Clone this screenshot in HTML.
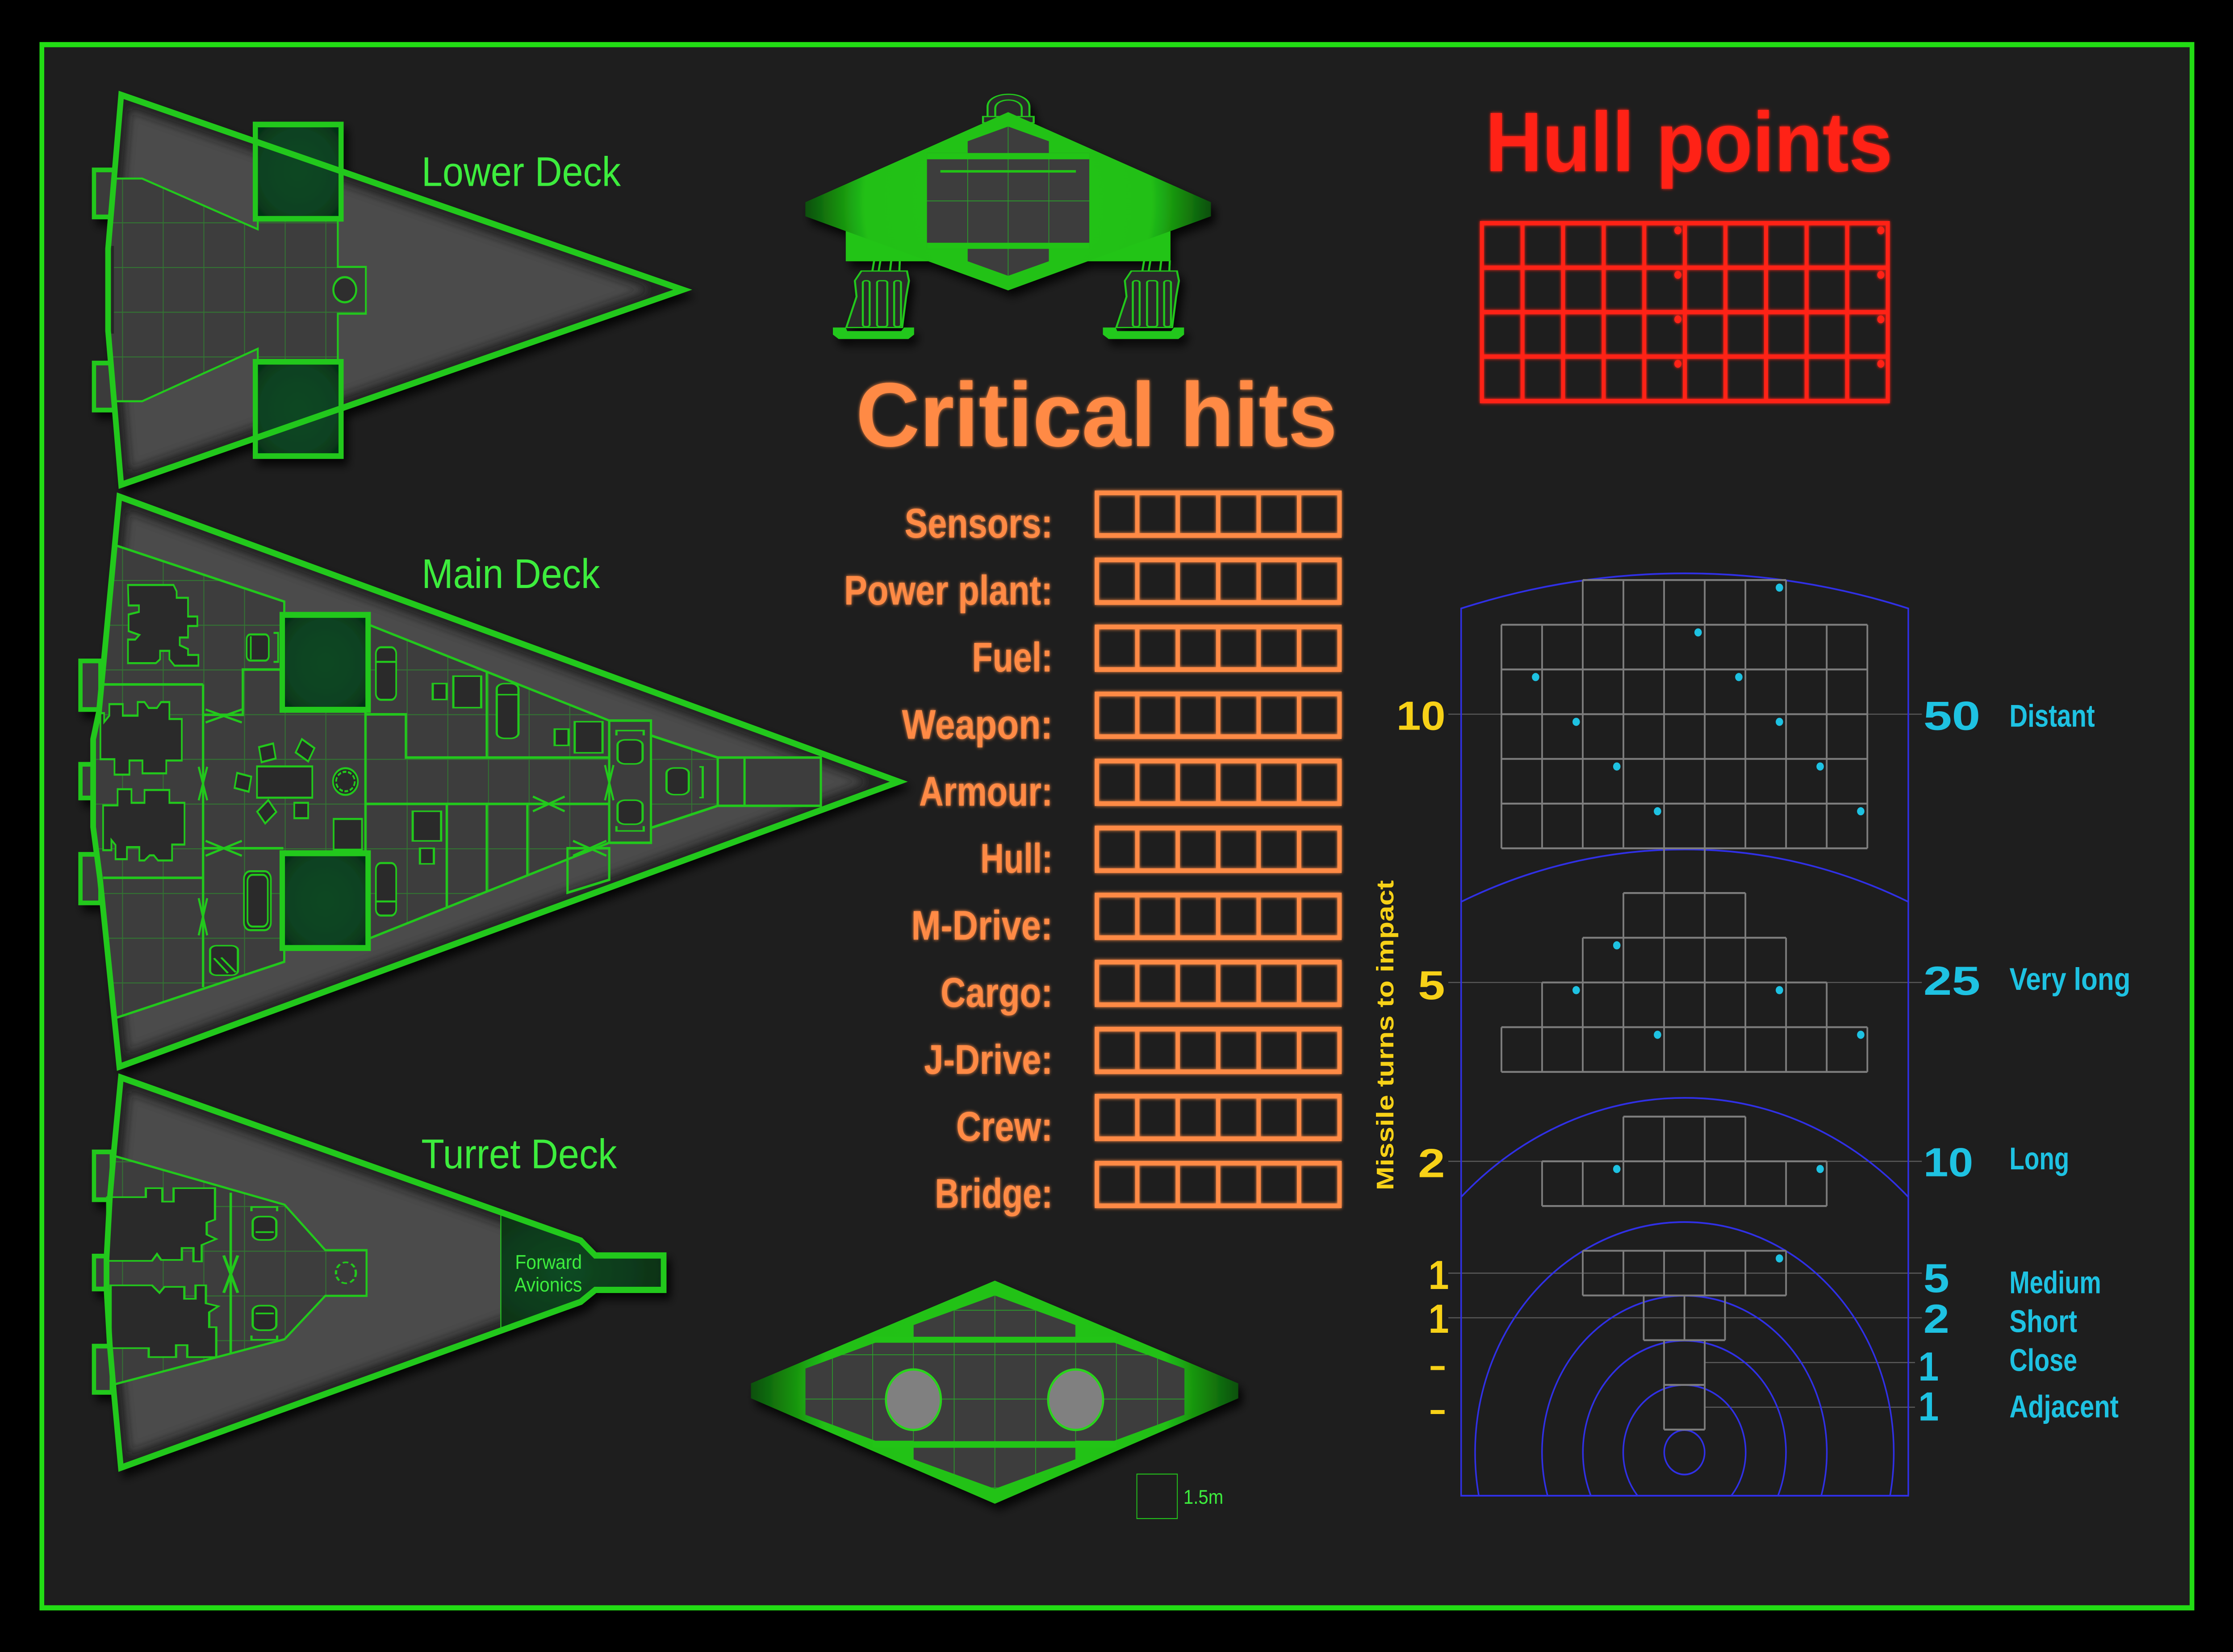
<!DOCTYPE html>
<html><head><meta charset="utf-8"><title>Ship deck plan</title>
<style>
html,body{margin:0;padding:0;background:#000;overflow:hidden;width:100%;height:100%;}
svg{display:block;width:100vw;height:100vh;}
text{font-family:"Liberation Sans",Arial,sans-serif;}
</style></head><body>
<svg xmlns="http://www.w3.org/2000/svg" viewBox="0 0 1568 1054.8" preserveAspectRatio="none">
<defs>
 <filter id="ds" x="-10%" y="-10%" width="130%" height="130%">
  <feDropShadow dx="3" dy="4" stdDeviation="3" flood-color="#000" flood-opacity="0.85"/>
 </filter>
 <filter id="glow" x="-5%" y="-20%" width="110%" height="140%">
  <feGaussianBlur stdDeviation="1.1" result="b"/>
  <feMerge><feMergeNode in="b"/><feMergeNode in="SourceGraphic"/></feMerge>
 </filter>
 <filter id="blur3" x="-5%" y="-5%" width="110%" height="110%"><feGaussianBlur stdDeviation="3"/></filter>
 <radialGradient id="groom" cx="50%" cy="50%" r="70%">
  <stop offset="0" stop-color="#0b4723"/><stop offset="0.65" stop-color="#0a4220"/><stop offset="1" stop-color="#042a14"/>
 </radialGradient>
 <radialGradient id="gav" cx="40%" cy="50%" r="70%">
  <stop offset="0" stop-color="#0b4a22"/><stop offset="1" stop-color="#062e15"/>
 </radialGradient>
 <radialGradient id="gdT" gradientUnits="userSpaceOnUse" cx="707.9" cy="128.5" r="148">
  <stop offset="0" stop-color="#22c414"/><stop offset="0.68" stop-color="#21c014"/><stop offset="1" stop-color="#08400a"/>
 </radialGradient>
 <radialGradient id="gdB" gradientUnits="userSpaceOnUse" cx="698.6" cy="889" r="178">
  <stop offset="0" stop-color="#22c414"/><stop offset="0.68" stop-color="#21c014"/><stop offset="1" stop-color="#08400a"/>
 </radialGradient>
 <pattern id="grid" patternUnits="userSpaceOnUse" x="114.3" y="370.35" width="28.55" height="28.55">
  <path d="M0,0.3 H28.55 M0.3,0 V28.55" stroke="#2aa02a" stroke-width="0.6" fill="none" opacity="0.55"/>
 </pattern>
 <path id="hL" d="M85.1,60.6 L479.4,185 L85.1,309.5 L75.9,211.2 L75.9,158.9 Z"/>
 <path id="hM" d="M83.8,317.1 L631.1,499.1 L83.8,681.1 L70.2,560.8 L65.4,528 L65.4,472 L69.5,454.5 Z"/>
 <path id="hT" d="M84.9,688 L407.8,792.1 L418,801.6 L466,801.6 L466,823.6 L418,823.6 L407.8,831.2 L84.9,937.1 L80,889.4 L77.1,858.9 L74.8,822.6 L74.8,803.5 L77.1,765.3 L80,734.8 Z"/>
 <path id="iL" d="M81.1,114 L99.8,114 L181,146.4 L181,140 L237.2,140 L237.2,170.4 L256.9,170.4 L256.9,200.3 L237.2,200.3 L237.2,231 L181,231 L181,222.7 L99.8,256.2 L81.1,256.2 L75.9,211.2 L75.9,158.9 Z"/>
 <path id="iM" d="M80.6,348 L199.6,384.1 L199.6,392.6 L258.5,392.6 L258.5,398.7 L427.8,460.1 L457.1,460.1 L457.1,469.6 L504,483.7 L576.4,483.7 L576.4,514.5 L504,514.5 L457.1,528.6 L457.1,538.1 L427.8,538.1 L258.5,599.5 L258.5,605.6 L199.6,605.6 L199.6,614.1 L80.6,650.2 L70.2,560.8 L65.4,528 L65.4,472 L69.5,454.5 Z"/>
 <path id="iT" d="M80,738 L199.8,769.2 L228.4,798.2 L257.4,798.2 L257.4,827.4 L228.4,827.4 L199.8,855.1 L80,884 L77.1,858.9 L74.8,822.6 L74.8,803.5 L77.1,765.3 Z"/>
 <path id="iB" d="M641.4,846.1 L698.6,827.2 L755.3,846.1 L755.3,857.3 L782.5,857.3 L831.7,873.8 L831.7,903.3 L782.5,919.9 L755.3,919.9 L755.3,931.7 L698.6,950.6 L641.4,931.7 L641.4,919.9 L614.7,919.9 L565.6,903.3 L565.6,873.8 L614.7,857.3 L641.4,857.3 Z"/>
 <clipPath id="cL"><use href="#hL"/></clipPath>
 <clipPath id="cM"><use href="#hM"/></clipPath>
 <clipPath id="cT"><use href="#hT"/></clipPath>
 <clipPath id="cB"><use href="#iB"/></clipPath>
 <clipPath id="cR"><rect x="1020" y="300" width="330" height="655"/></clipPath>
</defs>

<rect x="0" y="0" width="1568" height="1054.8" fill="#000"/>
<rect x="29.4" y="28.5" width="1509.8" height="998.1" fill="#1e1e1e" stroke="#22dd14" stroke-width="3.3"/>

<!-- ================= LOWER DECK ================= -->
<g filter="url(#ds)">
 <rect x="66" y="108.5" width="14" height="30" fill="#3a3a3a" stroke="#24c81c" stroke-width="3"/>
 <rect x="66" y="231.8" width="14" height="30" fill="#3a3a3a" stroke="#24c81c" stroke-width="3"/>
 <use href="#hL" fill="#4b4b4b"/>
 <g clip-path="url(#cL)"><use href="#hL" fill="none" stroke="#141414" stroke-width="14" filter="url(#blur3)" opacity="0.75"/></g>
 <use href="#iL" fill="#3e3e3e"/>
 <use href="#iL" fill="url(#grid)"/>
 <use href="#iL" fill="none" stroke="#24c81c" stroke-width="1.3"/>
 <rect x="74" y="157" width="6" height="56" fill="#262626"/>
 <circle cx="242.1" cy="185" r="8" fill="#2e2e2e" stroke="#24c81c" stroke-width="1.4"/>
 <rect x="179.3" y="79.5" width="60.2" height="60.2" fill="url(#groom)" stroke="#24c81c" stroke-width="3.6"/>
 <rect x="179.3" y="231" width="60.2" height="60.2" fill="url(#groom)" stroke="#24c81c" stroke-width="3.6"/>
 <use href="#hL" fill="none" stroke="#24c81c" stroke-width="4"/>
</g>
<text x="296" y="118.8" font-size="26.5" fill="#3ded3d">Lower Deck</text>

<!-- ================= MAIN DECK ================= -->
<g filter="url(#ds)">
 <rect x="56.5" y="422" width="14" height="31" fill="#3a3a3a" stroke="#24c81c" stroke-width="3"/>
 <rect x="56.5" y="488" width="12" height="21.5" fill="#3a3a3a" stroke="#24c81c" stroke-width="3"/>
 <rect x="56.5" y="545.5" width="14" height="31" fill="#3a3a3a" stroke="#24c81c" stroke-width="3"/>
 <use href="#hM" fill="#4b4b4b"/>
 <g clip-path="url(#cM)"><use href="#hM" fill="none" stroke="#141414" stroke-width="14" filter="url(#blur3)" opacity="0.75"/></g>
 <use href="#iM" fill="#3e3e3e"/>
 <use href="#iM" fill="url(#grid)"/>
 <use href="#iM" fill="none" stroke="#24c81c" stroke-width="1.5"/>
 <path fill="none" stroke="#24c81c" stroke-width="1.6" d="M72.4,437 H142.6 M142.6,437 V630.3 M72.4,560.5 H142.6 M142.6,456.4 H170.5 V427.5 H199 M142.6,541.6 H199
  M256.6,453 V545 M256.6,456.1 H285 V483.7 H427.8 M256.6,513.3 H427.8 M341.8,429.4 V483.7 M313.7,513.3 V579.5 M341.8,513.3 V569.3 M370.3,513.3 V558.9
  M427.8,460.1 V538.1 M398.5,541.6 H427.8 V561.7 L398.5,570 Z M504,483.7 V514.5 M522.8,483.7 V514.5"/>
 <path fill="#3e3e3e" stroke="#24c81c" stroke-width="1.6" d="M504,483.7 H576.4 V514.5 H504 Z M427.8,460.1 H457.1 V469.6 L457.1,528.6 V538.1 H427.8 Z"/>
 <path fill="none" stroke="#24c81c" stroke-width="1.6" d="M522.8,483.7 V514.5 M457.1,469.6 L504,483.7 M457.1,528.6 L504,514.5"/>
 <path fill="none" stroke="#24c81c" stroke-width="1.4" d="M144.4,453 L169.8,461.3 M144.4,461.3 L169.8,453 M144.4,536.9 L169.8,546.4 M144.4,546.4 L169.8,536.9
  M139.5,489.6 L145.5,511 M145.5,489.6 L139.5,511 M139.5,573.5 L145.5,597.2 M145.5,573.5 L139.5,597.2
  M374.2,508.6 L396.5,518 M374.2,518 L396.5,508.6 M402.4,536.9 L425.8,546.4 M402.4,546.4 L425.8,536.9
  M424.8,488.5 L430.8,511 M430.8,488.5 L424.8,511"/>
 <g transform="translate(51.31,356.33) scale(0.14544,0.16362)" fill="#2a2a2a" stroke="#24c81c" stroke-width="8">
  <path d="M265,105 H485 L500,130 V155 H555 V228 H600 V265 H555 V310 H515 V340 L555,355 V378 H605 V420 H490 L465,395 V362 H420 V395 L400,410 H265 V318 H300 L320,300 L268,285 V220 L318,210 V185 H268 Z"/>
  <path d="M132,605 H150 V640 L175,615 V570 H240 V615 H312 V562 H345 L365,585 H405 L425,562 H465 V628 H525 V790 H450 V840 H335 V790 H272 V845 H200 V785 H132 Z"/>
  <path d="M145,965 H215 V902 H282 V955 H345 V905 H465 V955 H538 V1118 H478 V1180 H410 L390,1160 H370 L345,1180 H320 V1128 H260 V1175 H205 V1120 L185,1100 V1140 H145 Z"/>
  <rect x="838" y="298" width="107" height="102" rx="18"/>
  <path d="M858,305 V395" fill="none"/>
  <path d="M968,292 H990 V405 H968" fill="none"/>
  <rect x="888" y="813" width="267" height="122"/>
  <rect x="-35" y="-30" width="70" height="60" transform="translate(938,760) rotate(-12)"/>
  <rect x="-35" y="-30" width="70" height="60" transform="translate(1120,750) rotate(30)"/>
  <rect x="-35" y="-30" width="70" height="60" transform="translate(820,875) rotate(12)"/>
  <rect x="-35" y="-30" width="70" height="60" transform="translate(935,990) rotate(-40)"/>
  <rect x="1068" y="955" width="67" height="60"/>
  <ellipse cx="1315" cy="872" rx="60" ry="52"/>
  <ellipse cx="1315" cy="872" rx="45" ry="38" fill="none" stroke-dasharray="18 8"/>
  <rect x="1258" y="1018" width="137" height="120"/>
  <rect x="825" y="1222" width="130" height="230" rx="30"/>
  <rect x="842" y="1236" width="98" height="202" rx="25"/>
  <rect x="1462" y="348" width="98" height="205" rx="25"/>
  <path d="M1462,405 H1560" fill="none"/>
  <rect x="1462" y="1190" width="98" height="205" rx="25"/>
  <path d="M1462,1340 H1560" fill="none"/>
 </g>
 <g transform="translate(42.76,313.57) scale(0.39088,0.23634)" fill="#2a2a2a" stroke="#24c81c" stroke-width="4">
  <rect x="268" y="1228" width="50" height="80" rx="12"/>
  <path d="M275,1262 L300,1302 M288,1260 L314,1300" fill="none"/>
  <rect x="783" y="520" width="39" height="148" rx="14"/>
  <path d="M783,550 H822" fill="none"/>
  <rect x="668" y="520" width="25" height="43"/>
  <rect x="705" y="500" width="50" height="85"/>
  <rect x="887" y="643" width="25" height="44"/>
  <rect x="923" y="623" width="50" height="84"/>
  <rect x="632" y="865" width="51" height="80"/>
  <rect x="645" y="965" width="25" height="42"/>
  <rect x="1000" y="672" width="45" height="65" rx="14"/>
  <rect x="1000" y="835" width="45" height="65" rx="14"/>
  <path d="M998,660 V647 H1047 V660 M998,905 V918 H1047 V905" fill="none"/>
  <rect x="1088" y="748" width="40" height="72" rx="14"/>
  <path d="M1147,745 H1153 V828 H1147" fill="none"/>
 </g>
 <rect x="198.2" y="392.6" width="60.3" height="60.6" fill="url(#groom)" stroke="#24c81c" stroke-width="3.8"/>
 <rect x="198.2" y="544.8" width="60.3" height="60.5" fill="url(#groom)" stroke="#24c81c" stroke-width="3.8"/>
 <use href="#hM" fill="none" stroke="#24c81c" stroke-width="4"/>
</g>
<text x="296.1" y="375.5" font-size="26.5" fill="#3ded3d">Main Deck</text>

<!-- ================= TURRET DECK ================= -->
<g filter="url(#ds)">
 <rect x="66" y="735.5" width="12.5" height="30.5" fill="#3a3a3a" stroke="#24c81c" stroke-width="3"/>
 <rect x="66" y="802" width="10" height="21" fill="#3a3a3a" stroke="#24c81c" stroke-width="3"/>
 <rect x="66" y="859.5" width="12.5" height="29.5" fill="#3a3a3a" stroke="#24c81c" stroke-width="3"/>
 <use href="#hT" fill="#4b4b4b"/>
 <g clip-path="url(#cT)"><use href="#hT" fill="none" stroke="#141414" stroke-width="14" filter="url(#blur3)" opacity="0.75"/></g>
 <path d="M351.7,774 L407.8,792.1 L418,801.6 L466,801.6 L466,823.6 L418,823.6 L407.8,831.2 L351.7,849.6 Z" fill="url(#gav)"/>
 <path d="M351.7,774 V849.6" stroke="#24c81c" stroke-width="0.7"/>
 <use href="#iT" fill="#3e3e3e"/>
 <use href="#iT" fill="url(#grid)"/>
 <use href="#iT" fill="none" stroke="#24c81c" stroke-width="1.4"/>
 <g transform="translate(42.76,669.9) scale(0.29089,0.19088)" fill="#2a2a2a" stroke="#24c81c" stroke-width="5.5">
  <path d="M112,495 H205 V465 H245 V510 H272 V465 H372 V570 L352,580 V620 L375,635 L340,655 V710 H320 V665 H292 V705 H242 L232,685 L220,708 H112 Z"/>
  <path d="M120,790 H220 L238,815 L250,795 H298 V835 H325 V790 H350 V850 L380,860 L358,880 V930 H375 V1030 H305 V990 H278 V1030 H212 V1000 H120 Z"/>
  <path d="M410,480 V1020" fill="none" stroke-width="6"/>
  <path d="M393,690 L427,815 M427,690 L393,815" fill="none" stroke-width="7"/>
  <rect x="463" y="560" width="57" height="78" rx="18"/>
  <path d="M470,612 H514" fill="none"/>
  <rect x="463" y="858" width="57" height="82" rx="18"/>
  <path d="M470,884 H514" fill="none"/>
  <path d="M460,542 V528 H522 V542 M460,958 V972 H522 V958" fill="none"/>
  <ellipse cx="688" cy="748" rx="24" ry="35" fill="#3a3a3a" stroke-dasharray="14 8"/>
 </g>
 <use href="#hT" fill="none" stroke="#24c81c" stroke-width="4"/>
</g>
<text x="295.8" y="745.9" font-size="26.5" fill="#3ded3d">Turret Deck</text>
<text x="361.7" y="810.2" font-size="12.8" fill="#3ded3d">Forward</text>
<text x="361.3" y="824.6" font-size="12.8" fill="#3ded3d">Avionics</text>

<!-- ================= TOP SHIP ================= -->
<g filter="url(#ds)">
 <g transform="translate(555.87,51.31) scale(0.19998,0.11272)" stroke="#24c81c" stroke-width="7">
  <path d="M688,215 V150 C688,55 835,55 835,150 V215 Z" fill="#2b2b2b"/>
  <path d="M715,215 V160 C715,95 808,95 808,160 V215" fill="none"/>
  <rect x="672" y="205" width="178" height="35" fill="#2b2b2b"/>
  <g id="legL">
   <path d="M290,1020 L283,1085 M312,1020 L305,1085 M350,1020 L345,1085 M380,1020 L378,1085" fill="none"/>
   <path d="M245,1080 L405,1080 L412,1135 L402,1225 L388,1400 L192,1400 L228,1225 L222,1135 Z" fill="#2b2b2b"/>
   <rect x="250" y="1135" width="24" height="260" rx="10" fill="#2b2b2b"/>
   <rect x="300" y="1135" width="36" height="260" rx="10" fill="#2b2b2b"/>
   <rect x="360" y="1135" width="24" height="260" rx="10" fill="#2b2b2b"/>
   <path d="M145,1400 L190,1400 L195,1420 L385,1420 L395,1400 L430,1400 L430,1440 L410,1465 L165,1465 L145,1440 Z" fill="#24c81c" stroke="none"/>
  </g>
  <use href="#legL" transform="translate(948,0)"/>
 </g>
 <rect x="593.9" y="147.1" width="228" height="19.7" fill="#22c414"/>
 <path d="M707.9,71.6 L850.3,129.1 L850.3,138.1 L707.9,185.4 L565.5,138.1 L565.5,129.1 Z" fill="url(#gdT)"/>
 <path d="M707.9,80.8 L736.5,90.2 V166.8 L707.9,176.1 L679.5,166.8 V90.2 Z" fill="#3c3c3c"/>
 <rect x="650.9" y="97.7" width="114" height="61.2" fill="#3e3e3e"/>
 <path d="M707.9,80.8 V176.1 M679.5,97.7 V158.9 M736.5,97.7 V158.9 M650.9,128.3 H764.9" stroke="#2aa02a" stroke-width="0.5" fill="none"/>
 <rect x="650.9" y="97.7" width="114" height="4" fill="#22c414"/>
 <rect x="650.9" y="155" width="114" height="3.9" fill="#22c414"/>
 <rect x="660.3" y="108.6" width="95.2" height="1.6" fill="#22c414"/>
</g>

<!-- ================= BOTTOM SHIP ================= -->
<g filter="url(#ds)">
 <path d="M698.6,817.7 L869.5,883.3 L869.5,892.8 L698.6,960.1 L527.3,892.8 L527.3,883.3 Z" fill="url(#gdB)"/>
 <use href="#iB" fill="#3e3e3e"/>
 <g clip-path="url(#cB)">
  <path d="M584.5,820 V960 M612.8,820 V960 M641.4,820 V960 M670,820 V960 M698.6,820 V960 M727.2,820 V960 M755.3,820 V960 M783.9,820 V960 M812.8,820 V960 M560,836.6 H840 M560,865 H840 M560,893.3 H840 M560,921.7 H840 M560,950 H840" stroke="#2aa02a" stroke-width="0.5" fill="none"/>
 </g>
 <rect x="612.8" y="853.5" width="171.1" height="3.8" fill="#22c414"/>
 <rect x="612.8" y="920.2" width="171.1" height="4.2" fill="#22c414"/>
 <circle cx="641.4" cy="893.7" r="19.3" fill="#808080" stroke="#2ad41e" stroke-width="1.5"/>
 <circle cx="755.3" cy="893.7" r="19.3" fill="#808080" stroke="#2ad41e" stroke-width="1.5"/>
</g>
<rect x="798.3" y="941.2" width="28.4" height="28.4" fill="none" stroke="#24c81c" stroke-width="0.6"/>
<text x="831" y="960.1" font-size="12.6" fill="#3ded3d">1.5m</text>

<!-- ================= CRITICAL HITS ================= -->
<g filter="url(#glow)" fill="#ff8a45">
 <text x="601" y="284.8" font-size="58" font-weight="bold" textLength="338" lengthAdjust="spacingAndGlyphs">Critical hits</text>
 <g font-size="26.5" font-weight="bold">
  <text x="635.2" y="343.2" textLength="104" lengthAdjust="spacingAndGlyphs">Sensors:</text>
  <text x="592.7" y="386" textLength="146.5" lengthAdjust="spacingAndGlyphs">Power plant:</text>
  <text x="682.5" y="428.8" textLength="56.7" lengthAdjust="spacingAndGlyphs">Fuel:</text>
  <text x="633.3" y="471.6" textLength="105.9" lengthAdjust="spacingAndGlyphs">Weapon:</text>
  <text x="645.4" y="514.4" textLength="93.8" lengthAdjust="spacingAndGlyphs">Armour:</text>
  <text x="688.4" y="557.2" textLength="50.8" lengthAdjust="spacingAndGlyphs">Hull:</text>
  <text x="639.9" y="600" textLength="99.3" lengthAdjust="spacingAndGlyphs">M-Drive:</text>
  <text x="660.5" y="642.8" textLength="78.7" lengthAdjust="spacingAndGlyphs">Cargo:</text>
  <text x="648.9" y="685.6" textLength="90.3" lengthAdjust="spacingAndGlyphs">J-Drive:</text>
  <text x="671.4" y="728.4" textLength="67.8" lengthAdjust="spacingAndGlyphs">Crew:</text>
  <text x="656.5" y="771.2" textLength="82.7" lengthAdjust="spacingAndGlyphs">Bridge:</text>
 </g>
 <path fill="none" stroke="#ff8a45" stroke-width="3" d="
 M770.2,314.7 h170.4 v27.2 h-170.4 Z M798.6,314.7 v27.2 M827,314.7 v27.2 M855.4,314.7 v27.2 M883.8,314.7 v27.2 M912.2,314.7 v27.2
 M770.2,357.5 h170.4 v27.2 h-170.4 Z M798.6,357.5 v27.2 M827,357.5 v27.2 M855.4,357.5 v27.2 M883.8,357.5 v27.2 M912.2,357.5 v27.2
 M770.2,400.3 h170.4 v27.2 h-170.4 Z M798.6,400.3 v27.2 M827,400.3 v27.2 M855.4,400.3 v27.2 M883.8,400.3 v27.2 M912.2,400.3 v27.2
 M770.2,443.1 h170.4 v27.2 h-170.4 Z M798.6,443.1 v27.2 M827,443.1 v27.2 M855.4,443.1 v27.2 M883.8,443.1 v27.2 M912.2,443.1 v27.2
 M770.2,485.9 h170.4 v27.2 h-170.4 Z M798.6,485.9 v27.2 M827,485.9 v27.2 M855.4,485.9 v27.2 M883.8,485.9 v27.2 M912.2,485.9 v27.2
 M770.2,528.7 h170.4 v27.2 h-170.4 Z M798.6,528.7 v27.2 M827,528.7 v27.2 M855.4,528.7 v27.2 M883.8,528.7 v27.2 M912.2,528.7 v27.2
 M770.2,571.5 h170.4 v27.2 h-170.4 Z M798.6,571.5 v27.2 M827,571.5 v27.2 M855.4,571.5 v27.2 M883.8,571.5 v27.2 M912.2,571.5 v27.2
 M770.2,614.3 h170.4 v27.2 h-170.4 Z M798.6,614.3 v27.2 M827,614.3 v27.2 M855.4,614.3 v27.2 M883.8,614.3 v27.2 M912.2,614.3 v27.2
 M770.2,657.1 h170.4 v27.2 h-170.4 Z M798.6,657.1 v27.2 M827,657.1 v27.2 M855.4,657.1 v27.2 M883.8,657.1 v27.2 M912.2,657.1 v27.2
 M770.2,699.9 h170.4 v27.2 h-170.4 Z M798.6,699.9 v27.2 M827,699.9 v27.2 M855.4,699.9 v27.2 M883.8,699.9 v27.2 M912.2,699.9 v27.2
 M770.2,742.7 h170.4 v27.2 h-170.4 Z M798.6,742.7 v27.2 M827,742.7 v27.2 M855.4,742.7 v27.2 M883.8,742.7 v27.2 M912.2,742.7 v27.2"/>
</g>

<!-- ================= HULL POINTS ================= -->
<g filter="url(#glow)">
 <text x="1043" y="109.3" font-size="54" font-weight="bold" fill="#ff2418" textLength="286" lengthAdjust="spacingAndGlyphs">Hull points</text>
 <path fill="none" stroke="#ff2418" stroke-width="2.8" d="M1040.6,142.5 h285 v113.6 h-285 Z
  M1069.1,142.5 v113.6 M1097.6,142.5 v113.6 M1126.1,142.5 v113.6 M1154.6,142.5 v113.6 M1183.1,142.5 v113.6 M1211.6,142.5 v113.6 M1240.1,142.5 v113.6 M1268.6,142.5 v113.6 M1297.1,142.5 v113.6
  M1040.6,170.9 h285 M1040.6,199.3 h285 M1040.6,227.7 h285"/>
 <g fill="#ff2418">
  <circle cx="1178.2" cy="147.1" r="2.5"/><circle cx="1320.7" cy="147.1" r="2.5"/>
  <circle cx="1178.2" cy="175.5" r="2.5"/><circle cx="1320.7" cy="175.5" r="2.5"/>
  <circle cx="1178.2" cy="203.9" r="2.5"/><circle cx="1320.7" cy="203.9" r="2.5"/>
  <circle cx="1178.2" cy="232.3" r="2.5"/><circle cx="1320.7" cy="232.3" r="2.5"/>
 </g>
</g>

<!-- ================= RANGE CHART ================= -->
<path fill="none" stroke="#5a5a5a" stroke-width="0.7" d="M1017,456 H1349.5 M1017,627.3 H1349.5 M1017,741.5 H1349.5 M1017,812.9 H1349.5 M1017,841.4 H1349.5 M1197,870 H1344.7 M1197,898.5 H1344.7"/>
<g fill="none" stroke="#3030e6" stroke-width="1.1">
 <path d="M1026,388.5 A561.2,561.2 0 0 1 1340,388.5 V955 H1026 Z"/>
 <path d="M1026,575.8 A385,385 0 0 1 1340,575.8"/>
 <path d="M1026,764.3 A226.3,226.3 0 0 1 1340,764.3"/>
 <g clip-path="url(#cR)">
  <circle cx="1182.8" cy="927.3" r="147"/>
  <circle cx="1182.8" cy="927.3" r="100"/>
  <circle cx="1182.8" cy="927.3" r="71.3"/>
  <circle cx="1182.8" cy="927.3" r="43"/>
 </g>
 <circle cx="1182.8" cy="927.3" r="14.2"/>
</g>
<path fill="none" stroke="#7d7d7d" stroke-width="1.2" d="
 M1111.4,370.35 H1254.15
 M1111.4,370.35 V398.9 M1139.95,370.35 V398.9 M1168.5,370.35 V398.9 M1197.05,370.35 V398.9 M1225.6,370.35 V398.9 M1254.15,370.35 V398.9
 M1054.3,398.9 H1311.25 M1054.3,427.45 H1311.25 M1054.3,456 H1311.25 M1054.3,484.55 H1311.25 M1054.3,513.1 H1311.25 M1054.3,541.65 H1311.25
 M1054.3,398.9 V541.65 M1082.85,398.9 V541.65 M1111.4,398.9 V541.65 M1139.95,398.9 V541.65 M1168.5,398.9 V541.65 M1197.05,398.9 V541.65 M1225.6,398.9 V541.65 M1254.15,398.9 V541.65 M1282.7,398.9 V541.65 M1311.25,398.9 V541.65
 M1168.5,541.65 V570.2 M1197.05,541.65 V570.2
 M1139.95,570.2 H1225.6 M1139.95,570.2 V598.75 M1168.5,570.2 V598.75 M1197.05,570.2 V598.75 M1225.6,570.2 V598.75
 M1111.4,598.75 H1254.15 M1111.4,598.75 V627.3 M1139.95,598.75 V627.3 M1168.5,598.75 V627.3 M1197.05,598.75 V627.3 M1225.6,598.75 V627.3 M1254.15,598.75 V627.3
 M1082.85,627.3 H1282.7 M1082.85,627.3 V655.85 M1111.4,627.3 V655.85 M1139.95,627.3 V655.85 M1168.5,627.3 V655.85 M1197.05,627.3 V655.85 M1225.6,627.3 V655.85 M1254.15,627.3 V655.85 M1282.7,627.3 V655.85
 M1054.3,655.85 H1311.25 M1054.3,684.4 H1311.25
 M1054.3,655.85 V684.4 M1082.85,655.85 V684.4 M1111.4,655.85 V684.4 M1139.95,655.85 V684.4 M1168.5,655.85 V684.4 M1197.05,655.85 V684.4 M1225.6,655.85 V684.4 M1254.15,655.85 V684.4 M1282.7,655.85 V684.4 M1311.25,655.85 V684.4
 M1139.95,712.95 H1225.6 M1139.95,712.95 V741.5 M1168.5,712.95 V741.5 M1197.05,712.95 V741.5 M1225.6,712.95 V741.5
 M1082.85,741.5 H1282.7 M1082.85,770.05 H1282.7
 M1082.85,741.5 V770.05 M1111.4,741.5 V770.05 M1139.95,741.5 V770.05 M1168.5,741.5 V770.05 M1197.05,741.5 V770.05 M1225.6,741.5 V770.05 M1254.15,741.5 V770.05 M1282.7,741.5 V770.05
 M1111.4,798.6 H1254.15 M1111.4,827.15 H1254.15
 M1111.4,798.6 V827.15 M1139.95,798.6 V827.15 M1168.5,798.6 V827.15 M1197.05,798.6 V827.15 M1225.6,798.6 V827.15 M1254.15,798.6 V827.15
 M1154.2,827.15 V855.7 M1182.8,827.15 V855.7 M1211.3,827.15 V855.7 M1154.2,855.7 H1211.3
 M1168.5,855.7 V912.8 M1197.05,855.7 V912.8 M1168.5,884.25 H1197.05 M1168.5,912.8 H1197.05"/>
<g fill="#1ec2e2">
 <circle cx="1249.5" cy="375.2" r="2.6"/><circle cx="1192.4" cy="403.8" r="2.6"/>
 <circle cx="1078.3" cy="432.3" r="2.6"/><circle cx="1221" cy="432.3" r="2.6"/>
 <circle cx="1106.8" cy="460.9" r="2.6"/><circle cx="1249.5" cy="460.9" r="2.6"/>
 <circle cx="1135.3" cy="489.4" r="2.6"/><circle cx="1278.1" cy="489.4" r="2.6"/>
 <circle cx="1163.9" cy="518" r="2.6"/><circle cx="1306.6" cy="518" r="2.6"/>
 <circle cx="1135.3" cy="603.6" r="2.6"/><circle cx="1106.8" cy="632.2" r="2.6"/>
 <circle cx="1249.5" cy="632.2" r="2.6"/><circle cx="1163.9" cy="660.7" r="2.6"/>
 <circle cx="1306.6" cy="660.7" r="2.6"/><circle cx="1135.3" cy="746.4" r="2.6"/>
 <circle cx="1278.1" cy="746.4" r="2.6"/><circle cx="1249.5" cy="803.5" r="2.6"/>
</g>

<g fill="#f7d117" font-size="26" font-weight="bold">
 <text x="980.5" y="466" textLength="34.5" lengthAdjust="spacingAndGlyphs">10</text>
 <text x="995.7" y="638" textLength="19" lengthAdjust="spacingAndGlyphs">5</text>
 <text x="995.7" y="751.6" textLength="19" lengthAdjust="spacingAndGlyphs">2</text>
 <text x="1003" y="823">1</text>
 <text x="1003" y="851">1</text>
 <text x="1004" y="880.5" textLength="11" lengthAdjust="spacingAndGlyphs">–</text>
 <text x="1004" y="908.5" textLength="11" lengthAdjust="spacingAndGlyphs">–</text>
 <text transform="translate(978.5,760) rotate(-90)" font-size="17" font-weight="bold" textLength="198" lengthAdjust="spacingAndGlyphs">Missile turns to impact</text>
</g>

<g fill="#1ec2e2">
 <g font-size="26" font-weight="bold">
  <text x="1350.6" y="466" textLength="40" lengthAdjust="spacingAndGlyphs">50</text>
  <text x="1350.6" y="635.2" textLength="40" lengthAdjust="spacingAndGlyphs">25</text>
  <text x="1350.6" y="751" textLength="35" lengthAdjust="spacingAndGlyphs">10</text>
  <text x="1350.6" y="825" textLength="18.2" lengthAdjust="spacingAndGlyphs">5</text>
  <text x="1350.6" y="851" textLength="18.2" lengthAdjust="spacingAndGlyphs">2</text>
  <text x="1347" y="881.4">1</text>
  <text x="1347" y="907">1</text>
 </g>
 <g font-size="20" font-weight="bold">
  <text x="1411" y="464" textLength="60" lengthAdjust="spacingAndGlyphs">Distant</text>
  <text x="1411" y="632" textLength="85" lengthAdjust="spacingAndGlyphs">Very long</text>
  <text x="1411" y="746.7" textLength="42" lengthAdjust="spacingAndGlyphs">Long</text>
  <text x="1411" y="825.7" textLength="64.4" lengthAdjust="spacingAndGlyphs">Medium</text>
  <text x="1411" y="850.5" textLength="47.6" lengthAdjust="spacingAndGlyphs">Short</text>
  <text x="1411" y="875.3" textLength="47.6" lengthAdjust="spacingAndGlyphs">Close</text>
  <text x="1411" y="905" textLength="76.7" lengthAdjust="spacingAndGlyphs">Adjacent</text>
 </g>
</g>
</svg>
</body></html>
